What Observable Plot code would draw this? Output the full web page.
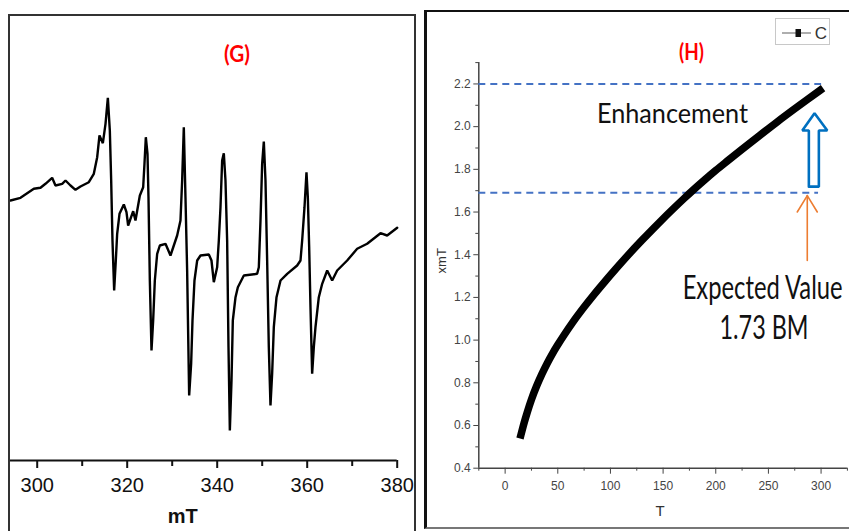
<!DOCTYPE html>
<html><head><meta charset="utf-8">
<script src="https://cdn.jsdelivr.net/npm/d3@7"></script>
<script src="https://cdn.jsdelivr.net/npm/@observablehq/plot@0.6"></script>
<style>
body{margin:0;background:#fff;}
#wrap{position:relative;width:849px;height:531px;overflow:hidden;background:#fff;}
.pl{position:absolute;top:0;}
#frameG{position:absolute;left:8px;top:14px;width:408px;height:600px;border:2px solid #333;box-sizing:border-box;pointer-events:none;}
#frameH{position:absolute;left:424px;top:10px;width:500px;height:519px;border:2px solid #111;border-left:3px solid #111;border-bottom-color:#777;box-sizing:border-box;pointer-events:none;}
#legend{position:absolute;left:775px;top:18px;width:55px;height:27px;border:1px solid #c8c8c8;box-sizing:border-box;background:#fff;}
</style></head>
<body><div id="wrap">
<div id="G" class="pl" style="left:0"></div>
<div id="H" class="pl" style="left:420px"></div>
<div id="frameG"></div>
<div id="frameH"></div>
<div id="legend"><svg width="53" height="25"><line x1="6" x2="35" y1="14" y2="14" stroke="#777" stroke-width="1.2"/><rect x="19.5" y="10" width="5.5" height="8" fill="#111"/><text x="51" y="20" text-anchor="end" font-family="Liberation Sans, Arial, sans-serif" font-size="17" fill="#333">C</text></svg></div>
</div>
<script>
// ---- Panel G: EPR spectrum (field in mT, intensity in arbitrary units)
const eprField = [294.07,296.29,299.25,300.73,301.84,303.32,304.06,305.55,306.29,307.40,308.51,309.62,311.47,312.58,313.33,313.84,314.59,315.18,315.70,316.14,316.44,316.73,317.10,317.47,317.77,318.29,319.25,319.84,320.21,321.33,321.84,322.81,323.55,323.84,324.14,324.51,324.73,325.03,325.40,325.77,326.14,326.66,327.25,328.51,329.62,331.10,331.84,332.21,332.58,332.95,333.32,333.77,334.21,334.51,334.95,335.55,336.29,338.14,338.73,339.25,339.99,340.36,340.73,341.10,341.47,341.84,342.21,342.51,342.81,343.18,343.47,344.07,344.59,345.92,348.88,349.25,349.62,349.99,350.36,350.73,351.10,351.47,351.84,352.21,352.58,353.18,354.07,355.55,357.77,358.51,358.88,359.40,359.84,360.14,360.44,360.73,361.10,361.47,361.84,362.58,363.33,364.44,365.55,366.66,368.88,371.10,373.32,376.29,377.77,380.0];
const eprSignal = [260,262.7,271.7,272.7,276.7,282.7,275,276.7,280,275,270.7,274,278.3,286.7,303.3,325,317.3,336.7,362.7,330,280,220,170,200,226.7,246.7,256,248.3,235,249.3,240,265,273.3,296.7,323.3,306.7,263.3,180,110,140,180,206.7,215,216.7,205,225,240,280,333.3,263.3,190,65,96.7,140,180,200,205,206,200,178.3,193.3,220,253.3,300,307.3,280,220,113.3,30,80,140,163.3,173.3,185,186.7,193.3,240,296.7,319,280,200,113.3,55,86.7,133.3,163.3,180,186.7,195,200,220,253.3,288.3,263.3,213.3,153.3,86.7,113.3,133.3,163.3,176.7,190,180,190,200,211.7,216.7,227.3,225,232.7];
const eprMajorTicks = [300,320,340,360,380];
const eprMinorTicks = [310,330,350,370];
const eprTitle = [{label:"(G)", mT:344.4, s:406}];

// ---- Panel H: chi_m T vs T
const tempK = [15,18,21,25,30,35,40,45,50,56,64,75,84,95,105,116,130,140,148,160,170,179,190,200,211,225,242,258,274,287,299];
const chiMT = [0.556,0.612,0.662,0.722,0.786,0.842,0.892,0.937,0.978,1.024,1.082,1.155,1.211,1.276,1.333,1.394,1.468,1.519,1.559,1.617,1.664,1.705,1.753,1.795,1.839,1.894,1.960,2.021,2.080,2.127,2.170];
const hXMajor = [0,50,100,150,200,250,300];
const hXMinor = [-25,25,75,125,175,225,275,325];
const hYMajor = [0.4,0.6,0.8,1.0,1.2,1.4,1.6,1.8,2.0,2.2];
const hYMinor = [0.5,0.7,0.9,1.1,1.3,1.5,1.7,1.9,2.1,2.3];
const refLines = [{v:2.2, T1:-25, T2:300.5},{v:1.69, T1:-25, T2:297.6}];
const blueArrow = [[288.4,1.719],[288.4,1.982],[282.2,1.982],[293.8,2.063],[305.9,1.982],[297.9,1.982],[297.9,1.719],[288.4,1.719]];
const orangeArrow = [
  {g:"shaft",pts:[[286.9,1.373],[286.9,1.677]]},
  {g:"head",pts:[[277.4,1.60],[286.9,1.677],[296.4,1.60]]}
];
const hNotes = [
  {label:"Enhancement", T:158.9, v:2.019, size:26.5},
  {label:"Expected Value", T:244.5, v:1.193, size:32},
  {label:"1.73 BM", T:245.8, v:1.006, size:32}
];
const hTitle = [{label:"(H)", T:176.9, v:2.345}];

const epr = eprField.map((f,i)=>({mT:f, s:eprSignal[i]}));
const chi = tempK.map((t,i)=>({T:t, chi:chiMT[i]}));

const G = Plot.plot({
  width:420, height:531,
  marginLeft:9.7, marginRight:23.3, marginTop:15, marginBottom:71,
  x:{domain:[294,380], label:null},
  y:{domain:[0,445], axis:null, label:null},
  style:{fontFamily:"Liberation Sans, Arial, sans-serif", background:"transparent", overflow:"visible"},
  marks:[
    Plot.ruleY([0], {x1:294, x2:380, stroke:"#111", strokeWidth:2}),
    Plot.axisX({ticks:eprMajorTicks, tickSize:8, tickPadding:9, fontSize:20, strokeWidth:2, color:"#111", label:null}),
    Plot.axisX({ticks:eprMinorTicks, tickSize:6, strokeWidth:2, color:"#111", tickFormat:()=>"", label:null}),
    Plot.line(epr, {x:"mT", y:"s", stroke:"#000", strokeWidth:2.4, strokeLinejoin:"miter"}),
    Plot.text(["mT"], {frameAnchor:"bottom", dx:-21, dy:62, fontSize:20, fontWeight:"bold", fill:"#111"}),
    Plot.text(eprTitle, {x:"mT", y:"s", text:"label", fill:"#ff0000", fontSize:22, fontWeight:"bold", fontFamily:"Lato, sans-serif"})
  ]
});
document.getElementById("G").append(G);

const H = Plot.plot({
  width:429, height:531,
  marginLeft:58.3, marginRight:2.1, marginTop:62.1, marginBottom:63.3,
  x:{domain:[-25,325], label:null},
  y:{domain:[0.4,2.3], label:null},
  style:{fontFamily:"Liberation Sans, Arial, sans-serif", background:"transparent", overflow:"visible"},
  marks:[
    Plot.axisY({ticks:hYMajor, tickSize:5, tickPadding:3, fontSize:12, color:"#444", tickFormat:d3.format(".1f"), label:null}),
    Plot.axisY({ticks:hYMinor, tickSize:3, color:"#444", tickFormat:()=>"", label:null}),
    Plot.axisX({ticks:hXMajor, tickSize:6, tickPadding:7, fontSize:12, color:"#444", label:null}),
    Plot.axisX({ticks:hXMinor, tickSize:3, color:"#444", tickFormat:()=>"", label:null}),
    Plot.ruleX([-25], {stroke:"#444", strokeWidth:1.5}),
    Plot.ruleY([0.4], {stroke:"#444", strokeWidth:1.5}),
    Plot.ruleY(refLines, {y:"v", x1:"T1", x2:"T2", stroke:"#4472C4", strokeWidth:2, strokeDasharray:"7,5"}),
    Plot.line(chi, {x:"T", y:"chi", stroke:"#000", strokeWidth:7.5, strokeLinecap:"square", curve:"monotone-x"}),
    Plot.line(blueArrow, {x:d=>d[0], y:d=>d[1], stroke:"#0070C0", strokeWidth:2.6, strokeLinejoin:"miter"}),
    ...orangeArrow.map(a=>Plot.line(a.pts, {x:d=>d[0], y:d=>d[1], stroke:"#ED7D31", strokeWidth:1.6})),
    ...hNotes.map(n=>Plot.text([n], {x:"T", y:"v", text:"label", lineAnchor:"bottom", fontSize:n.size, fontFamily:"Lato, sans-serif", fill:"#111"})),
    Plot.text(hTitle, {x:"T", y:"v", text:"label", fill:"#ff0000", fontSize:22, fontWeight:"bold", fontFamily:"Lato, sans-serif"}),
    Plot.text(["xmT"], {frameAnchor:"left", rotate:-90, dx:-37, dy:8, fontSize:13, fill:"#333"}),
    Plot.text(["T"], {frameAnchor:"bottom", dx:-3, dy:48, fontSize:15, fill:"#333"})
  ]
});
document.getElementById("H").append(H);

// narrow lettering like the original: shrink font to the target width, then stretch back vertically
const widths = {"Enhancement":151, "Expected Value":160, "1.73 BM":89, "(H)":25, "(G)":26};
d3.selectAll("#wrap svg text").each(function(){
  const target = widths[this.textContent];
  if (!target) return;
  const fs0 = parseFloat(getComputedStyle(this).fontSize);
  const w = this.getComputedTextLength();
  if (!w) return;
  const fs1 = fs0 * target / w;
  this.style.fontSize = fs1 + "px";
  const s = fs0 / fs1;
  const t = this.getAttribute("transform");
  if (t) this.setAttribute("transform", t + ` scale(1,${s})`);
  else {
    const x = +this.getAttribute("x") || 0, y = +this.getAttribute("y") || 0;
    this.setAttribute("transform", `translate(${x},${y}) scale(1,${s}) translate(${-x},${-y})`);
  }
});
</script>
</body></html>
